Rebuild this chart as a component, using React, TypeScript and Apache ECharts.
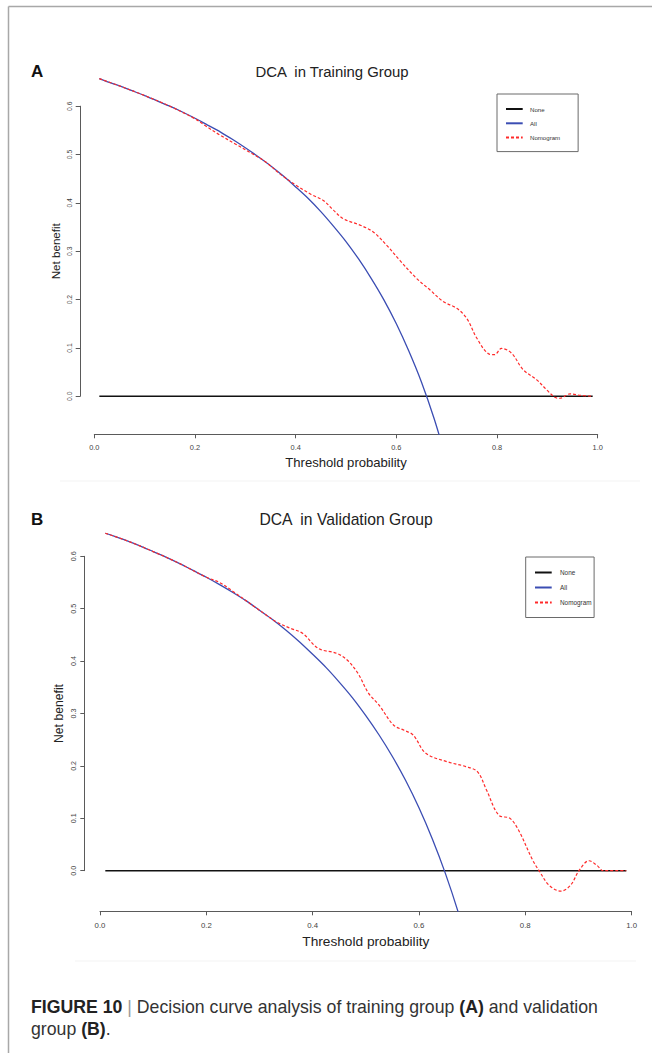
import React, { useEffect, useRef } from "react";
import * as echarts from "echarts";

// ---------- Data ----------
const allThresholds = [0.01, 0.025, 0.05, 0.075, 0.1, 0.125, 0.15, 0.175, 0.2, 0.225, 0.25, 0.275, 0.3, 0.325, 0.35, 0.375, 0.4, 0.425, 0.45, 0.475, 0.5, 0.525, 0.55, 0.575, 0.6, 0.625, 0.65, 0.675, 0.7];
const allTraining = [0.657, 0.651, 0.642, 0.632, 0.622, 0.611, 0.6, 0.588, 0.575, 0.561, 0.547, 0.531, 0.514, 0.496, 0.477, 0.456, 0.433, 0.409, 0.382, 0.352, 0.32, 0.284, 0.244, 0.2, 0.15, 0.093, 0.029, -0.046, -0.133];
const allValidation = [0.644, 0.639, 0.63, 0.62, 0.609, 0.598, 0.586, 0.573, 0.56, 0.546, 0.531, 0.515, 0.497, 0.479, 0.459, 0.437, 0.413, 0.388, 0.36, 0.33, 0.296, 0.259, 0.218, 0.172, 0.12, 0.061, -0.006, -0.083, -0.173];

const nomoTrainingT = [0.01, 0.05, 0.1, 0.15, 0.2, 0.22, 0.25, 0.28, 0.31, 0.34, 0.37, 0.4, 0.43, 0.455, 0.475, 0.495, 0.528, 0.554, 0.581, 0.607, 0.64, 0.667, 0.693, 0.72, 0.74, 0.76, 0.783, 0.795, 0.809, 0.829, 0.852, 0.879, 0.899, 0.915, 0.925, 0.945, 0.965, 0.99];
const nomoTrainingV = [0.657, 0.642, 0.622, 0.6, 0.574, 0.56, 0.54, 0.522, 0.504, 0.485, 0.459, 0.437, 0.418, 0.405, 0.385, 0.367, 0.354, 0.34, 0.312, 0.281, 0.244, 0.22, 0.196, 0.182, 0.161, 0.12, 0.088, 0.086, 0.099, 0.089, 0.055, 0.034, 0.013, -0.002, -0.004, 0.005, 0.002, 0.0];

const nomoValidationT = [0.01, 0.05, 0.1, 0.15, 0.2, 0.225, 0.25, 0.3, 0.33, 0.357, 0.381, 0.411, 0.445, 0.465, 0.485, 0.505, 0.525, 0.552, 0.572, 0.589, 0.613, 0.653, 0.687, 0.71, 0.727, 0.75, 0.771, 0.787, 0.814, 0.826, 0.845, 0.867, 0.885, 0.901, 0.92, 0.935, 0.947, 0.97, 0.99];
const nomoValidationV = [0.644, 0.63, 0.609, 0.586, 0.56, 0.55, 0.533, 0.497, 0.476, 0.463, 0.453, 0.424, 0.415, 0.402, 0.377, 0.339, 0.316, 0.278, 0.268, 0.259, 0.224, 0.208, 0.199, 0.189, 0.154, 0.106, 0.1, 0.078, 0.02, 0.0, -0.028, -0.039, -0.028, 0.0, 0.019, 0.01, 0.0, 0.0, 0.0];

const noneT = [0.01, 0.99];
const noneV = [0, 0];

const legendNames = ["None", "All", "Nomogram"];
const titles = ["DCA  in Training Group", "DCA  in Validation Group"];
const panelLetters = ["A", "B"];
const xName = "Threshold probability";
const yName = "Net benefit";

const zip = (a: number[], b: number[]) => a.map((v, i) => [v, b[i]]);

const FONT = "'Liberation Sans', Arial, Helvetica, sans-serif";
const AXIS_COLOR = "#5a5a5a";

type Layout = {
  x0: number; xScale: number;
  y0: number; yScale: number;
  axisY: number;
  axisX: number;
  xMin: number; xMax: number; yMax: number;
  tickFont: number; yTickFont: number; nameFont: number; yNameFont: number;
  xLabelMargin: number; yLabelMargin: number; xNameGap: number; yNameGap: number;
  legend: { left: number; top: number; padding: number[]; itemGap: number; font: number; textPad: number };
};

const layouts: Layout[] = [
  {
    x0: 94.3, xScale: 503.4, y0: 396.3, yScale: 483.5, axisY: 434, axisX: 80,
    xMin: -0.03, xMax: 1.03, yMax: 0.7,
    tickFont: 7.4, yTickFont: 6.8, nameFont: 13.1, yNameFont: 11.6,
    xLabelMargin: 10, yLabelMargin: 7, xNameGap: 22, yNameGap: 19,
    legend: { left: 497, top: 94, padding: [12, 18, 11, 8], itemGap: 8.3, font: 6.1, textPad: 2.3 },
  },
  {
    x0: 100, xScale: 531.6, y0: 870.7, yScale: 524, axisY: 911, axisX: 84.6,
    xMin: -0.03, xMax: 1.03, yMax: 0.7,
    tickFont: 7.8, yTickFont: 7.1, nameFont: 13.7, yNameFont: 12.2,
    xLabelMargin: 10.5, yLabelMargin: 7.5, xNameGap: 23, yNameGap: 20,
    legend: { left: 525.7, top: 557, padding: [12.5, 2.5, 12, 8.3], itemGap: 9, font: 6.4, textPad: 3.3 },
  },
];

function buildOption() {
  const grid: any[] = [];
  const xAxis: any[] = [];
  const yAxis: any[] = [];
  const series: any[] = [];
  const legend: any[] = [];

  const panels = [
    { all: zip(allThresholds, allTraining), nomo: zip(nomoTrainingT, nomoTrainingV) },
    { all: zip(allThresholds, allValidation), nomo: zip(nomoValidationT, nomoValidationV) },
  ];

  panels.forEach((p, i) => {
    const L = layouts[i];
    const yMin = -(L.axisY - L.y0) / L.yScale;
    const gBase = i * 3;
    const dataLeft = L.x0 + L.xMin * L.xScale;
    const dataTop = L.y0 - L.yMax * L.yScale;
    grid.push({ left: dataLeft, top: dataTop, width: (L.xMax - L.xMin) * L.xScale, height: L.axisY - dataTop, containLabel: false });
    grid.push({ left: L.axisX, top: L.y0 - 0.6 * L.yScale, width: 20, height: 0.6 * L.yScale });
    grid.push({ left: L.x0, top: L.axisY - 20, width: L.xScale, height: 20 });

    const hidden = (gi: number, min: number, max: number) => ({ type: "value", gridIndex: gi, min, max, show: false });

    xAxis.push(hidden(gBase, L.xMin, L.xMax));
    yAxis.push(hidden(gBase, yMin, L.yMax));

    xAxis.push(hidden(gBase + 1, 0, 1));
    yAxis.push({
      type: "value", gridIndex: gBase + 1, min: 0, max: 0.6, interval: 0.1, position: "left",
      axisLine: { show: true, lineStyle: { color: AXIS_COLOR, width: 1 } },
      axisTick: { show: true, length: 4.3, lineStyle: { color: AXIS_COLOR, width: 1 } },
      splitLine: { show: false },
      axisLabel: {
        rotate: 90, margin: L.yLabelMargin, fontSize: L.yTickFont, color: "#444", fontFamily: FONT,
        formatter: (v: number) => v.toFixed(1),
      },
      name: yName, nameLocation: "middle", nameGap: L.yNameGap, nameRotate: 90,
      nameTextStyle: { fontSize: L.yNameFont, color: "#222", fontFamily: FONT },
    });

    xAxis.push({
      type: "value", gridIndex: gBase + 2, min: 0, max: 1, interval: 0.2, position: "bottom",
      axisLine: { show: true, onZero: false, lineStyle: { color: AXIS_COLOR, width: 1 } },
      axisTick: { show: true, length: 4.3, lineStyle: { color: AXIS_COLOR, width: 1 } },
      splitLine: { show: false },
      axisLabel: {
        margin: L.xLabelMargin, fontSize: L.tickFont, color: "#444", fontFamily: FONT,
        formatter: (v: number) => v.toFixed(1), showMinLabel: true, showMaxLabel: true,
      },
      name: xName, nameLocation: "middle", nameGap: L.xNameGap,
      nameTextStyle: { fontSize: L.nameFont, color: "#222", fontFamily: FONT },
    });
    yAxis.push(hidden(gBase + 2, 0, 1));

    series.push({
      name: "None", type: "line", xAxisIndex: gBase, yAxisIndex: gBase, data: zip(noneT, noneV),
      symbol: "none", lineStyle: { color: "#111", width: 1.6 }, itemStyle: { color: "#111" }, z: 2,
    });
    series.push({
      name: "All", type: "line", xAxisIndex: gBase, yAxisIndex: gBase, data: p.all,
      symbol: "none", smooth: 0.3, clip: true,
      lineStyle: { color: "#3b4db3", width: 1.3 }, itemStyle: { color: "#3b4db3" }, z: 3,
    });
    series.push({
      name: "Nomogram", type: "line", xAxisIndex: gBase, yAxisIndex: gBase, data: p.nomo,
      symbol: "none", smooth: 0.35, clip: true,
      lineStyle: { color: "#ff2a2a", width: 1.2, type: [3, 2] }, itemStyle: { color: "#ff2a2a" }, z: 4,
    });

    legend.push({
      data: legendNames, orient: "vertical", left: L.legend.left, top: L.legend.top,
      padding: L.legend.padding, itemGap: L.legend.itemGap, itemWidth: 16.7, itemHeight: 6,
      borderColor: "#6a6a6a", borderWidth: 1, borderRadius: 0, backgroundColor: "#fff",
      selectedMode: false,
      itemStyle: { opacity: 0 },
      textStyle: { fontSize: L.legend.font, color: "#333", fontFamily: FONT, padding: [0, 0, 0, L.legend.textPad] },
    });
  });

  const graphic: any[] = [
    { type: "line", shape: { x1: 8.5, y1: 6.5, x2: 652, y2: 6.5 }, style: { stroke: "#a8a8a8", lineWidth: 1.5 } },
    { type: "line", shape: { x1: 8.5, y1: 6.5, x2: 8.5, y2: 1053 }, style: { stroke: "#a8a8a8", lineWidth: 1.5 } },
    { type: "line", shape: { x1: 60, y1: 481, x2: 640, y2: 481 }, style: { stroke: "#f3f3f3", lineWidth: 1 } },
    { type: "line", shape: { x1: 75, y1: 961, x2: 636, y2: 961 }, style: { stroke: "#f3f3f3", lineWidth: 1 } },
  ];

  const titleSpecs = [
    { letterX: 31, y: 71.7, titleX: 332, size: 14.9 },
    { letterX: 31, y: 519, titleX: 346, size: 15.7 },
  ];
  titleSpecs.forEach((t, i) => {
    graphic.push({
      type: "text", x: t.letterX, y: t.y,
      style: { text: panelLetters[i], font: `bold 17px ${FONT}`, fill: "#111", align: "left", verticalAlign: "middle", textAlign: "left", textVerticalAlign: "middle" },
    });
    graphic.push({
      type: "text", x: t.titleX, y: t.y,
      style: { text: titles[i], font: `${t.size}px ${FONT}`, fill: "#222", align: "center", verticalAlign: "middle", textAlign: "center", textVerticalAlign: "middle" },
    });
  });

  const capSize = 17.7;
  graphic.push({
    type: "text", x: 31, y: 1007,
    style: {
      text: "{b|FIGURE 10} {s||} Decision curve analysis of training group {b|(A)} and validation",
      font: `${capSize}px ${FONT}`, fill: "#333", align: "left", verticalAlign: "middle", textAlign: "left", textVerticalAlign: "middle",
      rich: {
        b: { fontWeight: "bold", fontSize: capSize, fontFamily: FONT, fill: "#222", color: "#222" },
        s: { fontSize: capSize, fontFamily: FONT, fill: "#999", color: "#999" },
      },
    },
  });
  graphic.push({
    type: "text", x: 31, y: 1029,
    style: {
      text: "group {b|(B)}.",
      font: `${capSize}px ${FONT}`, fill: "#333", align: "left", verticalAlign: "middle", textAlign: "left", textVerticalAlign: "middle",
      rich: { b: { fontWeight: "bold", fontSize: capSize, fontFamily: FONT, fill: "#222", color: "#222" } },
    },
  });

  return {
    animation: false,
    backgroundColor: "#ffffff",
    grid, xAxis, yAxis, series, legend, graphic,
  };
}

export default function App() {
  const ref = useRef<HTMLDivElement>(null);
  useEffect(() => {
    if (!ref.current) return;
    const chart = echarts.init(ref.current, undefined, { renderer: "svg" });
    chart.setOption(buildOption() as any);
    return () => chart.dispose();
  }, []);
  return (
    <div
      ref={ref}
      style={{ position: "absolute", left: 0, top: 0, width: 652, height: 1053, background: "#fff" }}
    />
  );
}
